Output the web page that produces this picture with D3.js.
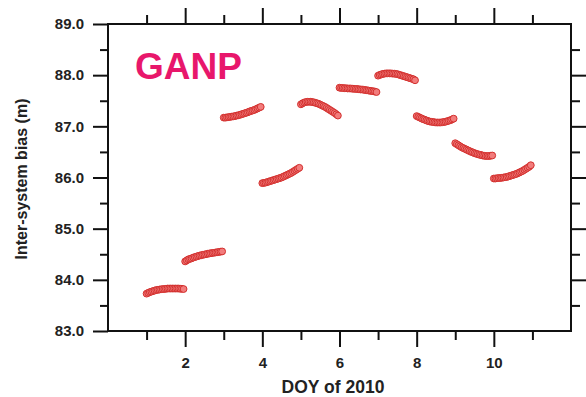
<!DOCTYPE html>
<html>
<head>
<meta charset="utf-8">
<script src="https://cdn.jsdelivr.net/npm/d3@7"></script>
<style>
  html, body { margin: 0; padding: 0; background: #fff; }
  svg { display: block; }
  text { font-family: "Liberation Sans", Arial, sans-serif; font-weight: bold; }
</style>
</head>
<body>
<div id="chart"></div>
<script>
// Hourly inter-system bias estimates (m), one daily batch per DOY
const sampleHours = [0,1,2,3,4,5,6,7,8,9,10,11,12,13,14,15,16,17,18,19,20,21,22,23];
const doy01 = [83.73,83.745,83.76,83.77,83.78,83.79,83.80,83.805,83.81,83.815,83.82,83.82,83.825,83.83,83.83,83.83,83.83,83.83,83.83,83.83,83.83,83.825,83.825,83.82];
const doy02 = [84.36,84.38,84.40,84.41,84.42,84.435,84.445,84.455,84.465,84.475,84.48,84.49,84.495,84.50,84.51,84.515,84.52,84.525,84.53,84.535,84.54,84.545,84.55,84.555];
const doy03 = [87.17,87.17,87.175,87.18,87.185,87.19,87.195,87.20,87.21,87.215,87.225,87.235,87.245,87.255,87.265,87.275,87.29,87.30,87.31,87.32,87.335,87.35,87.365,87.38];
const doy04 = [85.89,85.895,85.90,85.91,85.92,85.93,85.94,85.95,85.96,85.97,85.98,85.99,86.00,86.015,86.03,86.045,86.06,86.075,86.09,86.11,86.13,86.15,86.17,86.19];
const doy05 = [87.43,87.45,87.465,87.475,87.48,87.48,87.48,87.475,87.47,87.46,87.45,87.44,87.425,87.41,87.395,87.38,87.36,87.34,87.32,87.30,87.28,87.26,87.235,87.21];
const doy06 = [87.755,87.75,87.75,87.745,87.745,87.74,87.74,87.74,87.735,87.735,87.73,87.73,87.725,87.72,87.72,87.715,87.71,87.705,87.70,87.695,87.69,87.685,87.68,87.67];
const doy07 = [87.99,88.005,88.015,88.025,88.03,88.035,88.035,88.035,88.035,88.03,88.03,88.025,88.02,88.01,88.00,87.99,87.98,87.97,87.96,87.95,87.94,87.93,87.92,87.90];
const doy08 = [87.20,87.185,87.17,87.155,87.14,87.13,87.115,87.105,87.095,87.09,87.085,87.08,87.075,87.075,87.075,87.075,87.08,87.085,87.09,87.10,87.11,87.12,87.135,87.15];
const doy09 = [86.67,86.65,86.63,86.61,86.59,86.575,86.56,86.545,86.53,86.515,86.50,86.49,86.475,86.465,86.455,86.445,86.44,86.43,86.425,86.42,86.42,86.42,86.425,86.43];
const doy10 = [85.98,85.98,85.985,85.99,85.99,85.995,86.00,86.005,86.01,86.02,86.03,86.04,86.05,86.06,86.07,86.085,86.10,86.115,86.13,86.15,86.17,86.19,86.21,86.24];
const dayNumbers = [1,2,3,4,5,6,7,8,9,10];
const dailySeries = [doy01,doy02,doy03,doy04,doy05,doy06,doy07,doy08,doy09,doy10];

const xMajorTicks = [2,4,6,8,10];
const xMinorTicks = [1,3,5,7,9,11];
const yMajorTicks = [83,84,85,86,87,88,89];
const yMinorTicks = [83.5,84.5,85.5,86.5,87.5,88.5];

const stationName = "GANP";
const xTitle = "DOY of 2010";
const yTitle = "Inter-system bias (m)";

const W = 586, H = 397;
const plot = { left: 108, right: 571, top: 24, bottom: 331 };

const svg = d3.select("#chart").append("svg").attr("width", W).attr("height", H);

const x = d3.scaleLinear().domain([0, 12]).range([plot.left, plot.right]);
const y = d3.scaleLinear().domain([83, 89]).range([plot.bottom, plot.top]);

// flatten daily batches into (epoch, bias) points
const points = [];
dayNumbers.forEach((d, i) => {
  dailySeries[i].forEach((v, k) => points.push({ t: d + sampleHours[k] / 24, v }));
});

function styleAxis(g) {
  g.select(".domain").remove();
  g.selectAll(".tick line").attr("stroke", "#111").attr("stroke-width", 2);
  g.selectAll(".tick text").attr("fill", "#222").style("font-size", "15px");
}

// bottom axis: labelled majors, short minors
svg.append("g").attr("transform", `translate(0,${plot.bottom})`)
  .call(d3.axisBottom(x).tickValues(xMajorTicks).tickSize(16).tickPadding(10).tickFormat(d3.format("d")))
  .call(styleAxis);
svg.append("g").attr("transform", `translate(0,${plot.bottom})`)
  .call(d3.axisBottom(x).tickValues(xMinorTicks).tickSize(9).tickFormat(""))
  .call(styleAxis);
// top axis mirrors the ticks outward
svg.append("g").attr("transform", `translate(0,${plot.top})`)
  .call(d3.axisTop(x).tickValues(xMajorTicks).tickSize(16).tickFormat(""))
  .call(styleAxis);
svg.append("g").attr("transform", `translate(0,${plot.top})`)
  .call(d3.axisTop(x).tickValues(xMinorTicks).tickSize(9).tickFormat(""))
  .call(styleAxis);

// left axis
svg.append("g").attr("transform", `translate(${plot.left},0)`)
  .call(d3.axisLeft(y).tickValues(yMajorTicks).tickSize(15).tickPadding(9).tickFormat(d3.format(".1f")))
  .call(styleAxis);
svg.append("g").attr("transform", `translate(${plot.left},0)`)
  .call(d3.axisLeft(y).tickValues(yMinorTicks).tickSize(8).tickFormat(""))
  .call(styleAxis);
// right axis (no ticks at the frame corners)
svg.append("g").attr("transform", `translate(${plot.right},0)`)
  .call(d3.axisRight(y).tickValues(yMajorTicks.slice(1, -1)).tickSize(16).tickFormat(""))
  .call(styleAxis);
svg.append("g").attr("transform", `translate(${plot.right},0)`)
  .call(d3.axisRight(y).tickValues(yMinorTicks).tickSize(9).tickFormat(""))
  .call(styleAxis);

// plot frame
svg.append("rect")
  .attr("x", plot.left).attr("y", plot.top)
  .attr("width", plot.right - plot.left).attr("height", plot.bottom - plot.top)
  .attr("fill", "none").attr("stroke", "#111").attr("stroke-width", 2);

// bias samples
svg.append("g").selectAll("circle").data(points).join("circle")
  .attr("cx", d => x(d.t))
  .attr("cy", d => y(d.v))
  .attr("r", 3.4)
  .attr("fill", "#f27c7c")
  .attr("stroke", "#d3302e")
  .attr("stroke-width", 1);

// station label
svg.append("text")
  .attr("x", 135).attr("y", 79)
  .attr("fill", "#e8176b")
  .style("font-size", "37px")
  .text(stationName);

// axis titles
svg.append("text")
  .attr("x", 333).attr("y", 393)
  .attr("text-anchor", "middle")
  .attr("fill", "#222")
  .style("font-size", "17.5px")
  .text(xTitle);

svg.append("text")
  .attr("transform", "translate(27,179) rotate(-90)")
  .attr("text-anchor", "middle")
  .attr("fill", "#222")
  .style("font-size", "16px")
  .text(yTitle);
</script>
</body>
</html>
